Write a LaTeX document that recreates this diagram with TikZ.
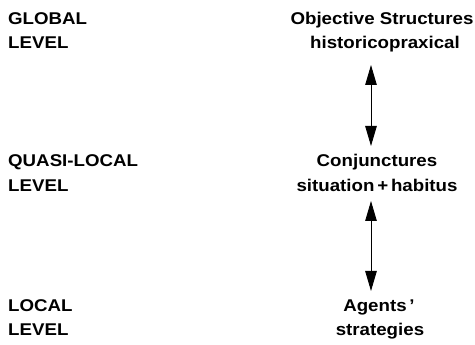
\documentclass[tikz,border=0pt]{standalone}
\usepackage{fontspec}
\setmainfont{Liberation Sans}[FakeStretch=1.1]
\usetikzlibrary{arrows.meta}
\begin{document}
\begin{tikzpicture}[x=1pt,y=-1pt,
  lbl/.style={inner sep=0pt,anchor=base west,font=\fontsize{17}{20}\selectfont\bfseries},
  txt/.style={inner sep=0pt,anchor=base,font=\fontsize{17}{20}\selectfont\bfseries},
  link/.style={line width=0.9pt,{Triangle[length=20pt,width=11.5pt]}-{Triangle[length=20pt,width=11.5pt]}}]
  \useasboundingbox (0,0) rectangle (475,345);
  % level names on the left
  \node[lbl] (g1) at (8,25) {GLOBAL};
  \node[lbl] (g2) at (8,49) {LEVEL};
  \node[lbl] (q1) at (8,167) {QUASI-LOCAL};
  \node[lbl] (q2) at (8,192) {LEVEL};
  \node[lbl] (l1) at (8,312) {LOCAL};
  \node[lbl] (l2) at (8,335) {LEVEL};
  % the three strata on the right
  \node[txt] (obj)  at (382,25) {Objective Structures};
  \node[txt] (hist) at (385,49) {historicopraxical};
  \node[txt] (conj) at (377,167) {Conjunctures};
  \node[txt] (sit)  at (377,192) {situation\,+\,habitus};
  \node[txt] (agt)  at (379,312) {Agents\,'};
  \node[txt] (str)  at (380,335) {strategies};
  % vertical axis of the links
  \coordinate (axis) at (371,0);
  % two-way links between the strata
  \draw[link,shorten <=16pt,shorten >=21pt] (hist.base -| axis) -- (conj.base -| axis);
  \draw[link,shorten <=9pt,shorten >=21pt] (sit.base -| axis) -- (agt.base -| axis);
\end{tikzpicture}
\end{document}
